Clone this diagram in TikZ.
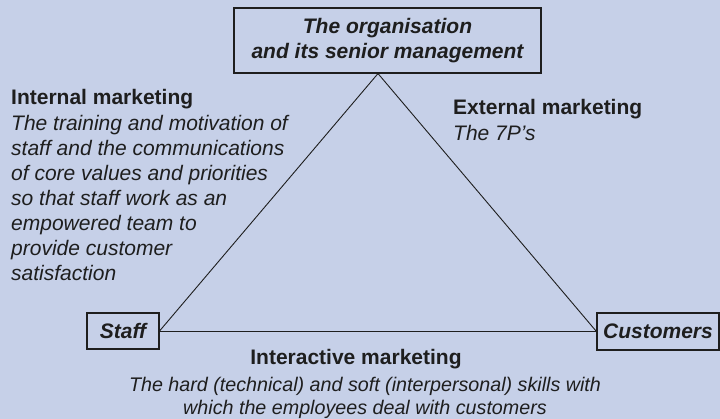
\documentclass[tikz,border=0pt]{standalone}
\usepackage{fontspec}
\setmainfont{Liberation Sans}
\usetikzlibrary{calc}
\definecolor{bg}{RGB}{198,208,232}
\definecolor{ink}{RGB}{30,30,30}
\begin{document}
\begin{tikzpicture}[x=1pt,y=-1pt,
  every node/.style={inner sep=0pt, text=ink},
  box/.style={draw=ink, line width=1.1pt, font=\fontsize{21}{25}\selectfont\bfseries\itshape, align=center},
  head/.style={font=\fontsize{21}{25.1}\selectfont\bfseries, anchor=base west},
  body/.style={font=\fontsize{21}{25.1}\selectfont\itshape, anchor=base west, align=left},
  edge/.style={draw=ink, line width=0.9pt}]
\fill[bg] (0,0) rectangle (720,419);
\useasboundingbox (0,0) rectangle (720,419);
% boxes
\node[box, minimum width=307pt, minimum height=65pt] (org) at (387.5,40.5) {The organisation\\and its senior management};
\node[box, minimum width=72pt, minimum height=36pt] (staff) at (123,331) {Staff};
\node[box, minimum width=122pt, minimum height=37pt] (cust) at (658,331.5) {Customers};
\coordinate (apex) at ($(org.south)+(-9.5,0)$);
% triangle
\draw[edge] (staff.east) -- (apex) -- (cust.west);
\draw[edge] (staff.east) -- (staff.east -| cust.west);
% texts (multi-line nodes: base = last line)
\node[head] (inth) at (11,105) {Internal marketing};
\node[body] (intb) at (11,281) {The training and motivation of\\staff and the communications\\of core values and priorities\\so that staff work as an\\empowered team to\\provide customer\\satisfaction};
\node[head] (exth) at (453,115) {External marketing};
\node[body] (extb) at (453,141) {The 7P’s};
\node[head, anchor=base] (inah) at (356,365) {Interactive marketing};
\node[body, anchor=base, align=center, font=\fontsize{19.7}{22.5}\selectfont\itshape] (inab) at (365,414) {The hard (technical) and soft (interpersonal) skills with\\which the employees deal with customers};
\end{tikzpicture}
\end{document}
